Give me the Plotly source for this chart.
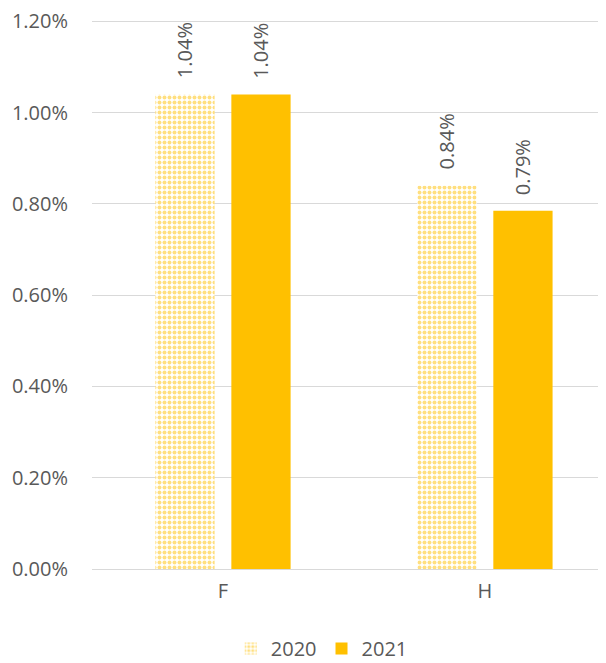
import plotly.graph_objects as go

# Data
categories = ["F", "H"]
values_2020 = [1.04, 0.84]  # percent
values_2021 = [1.04, 0.785]
labels_2020 = ["1.04%", "0.84%"]
labels_2021 = ["1.04%", "0.79%"]
y_ticks = [0, 0.2, 0.4, 0.6, 0.8, 1.0, 1.2]
y_tick_labels = ["0.00%", "0.20%", "0.40%", "0.60%", "0.80%", "1.00%", "1.20%"]

gold = "#FFC000"
txt = "#595959"
font_family = "Open Sans, Noto Sans, sans-serif"
fs = 20

x_pos = list(range(len(categories)))

fig = go.Figure()

fig.add_trace(go.Bar(
    x=x_pos, y=values_2020, name="2020",
    marker=dict(color="white", line=dict(width=0),
                pattern=dict(shape=".", fgcolor=gold, bgcolor="white",
                             size=5, solidity=0.5, fillmode="overlay")),
))
fig.add_trace(go.Bar(
    x=x_pos, y=values_2021, name="2021",
    marker=dict(color=gold, line=dict(width=0)),
))

# rotated value labels above the bars
for i in x_pos:
    for offs, vals, labs in [(-0.146, values_2020, labels_2020), (0.143, values_2021, labels_2021)]:
        fig.add_annotation(
            x=i + offs, y=vals[i], text=labs[i], textangle=-90,
            showarrow=False, xanchor="center", yanchor="bottom", yshift=14,
            font=dict(size=fs, color=txt, family=font_family),
        )

# page body has an 8px margin, so the figure is a bit smaller than the window
fig.update_layout(
    width=598, height=655,
    margin=dict(l=84, r=0, t=12, b=94),
    paper_bgcolor="white", plot_bgcolor="white",
    barmode="group", bargap=0.42, bargroupgap=0.22,
    font=dict(family=font_family, size=fs, color=txt),
    showlegend=True,
    legend=dict(orientation="h", x=0.447, xanchor="center", xref="paper",
                y=0.022, yanchor="middle", yref="container",
                font=dict(size=fs, color=txt), itemwidth=30, traceorder="normal"),
)
fig.update_xaxes(
    type="linear", tickmode="array", tickvals=x_pos, ticktext=categories,
    range=[-0.5, 1.462], showgrid=False, showline=False, ticks="", automargin=False,
    ticklabelstandoff=8, tickfont=dict(size=fs, color=txt),
)
# range slightly above 1.2 so the top gridline is drawn
fig.update_yaxes(
    range=[0, 1.203], tickmode="array", tickvals=y_ticks, ticktext=y_tick_labels,
    showgrid=True, gridcolor="#D9D9D9", gridwidth=1, automargin=False,
    zeroline=True, zerolinecolor="#D9D9D9", zerolinewidth=1, ticklabeloverflow="allow",
    showline=False, ticks="", ticklabelstandoff=23, tickfont=dict(size=fs, color=txt),
)

fig.write_html("out.html")
